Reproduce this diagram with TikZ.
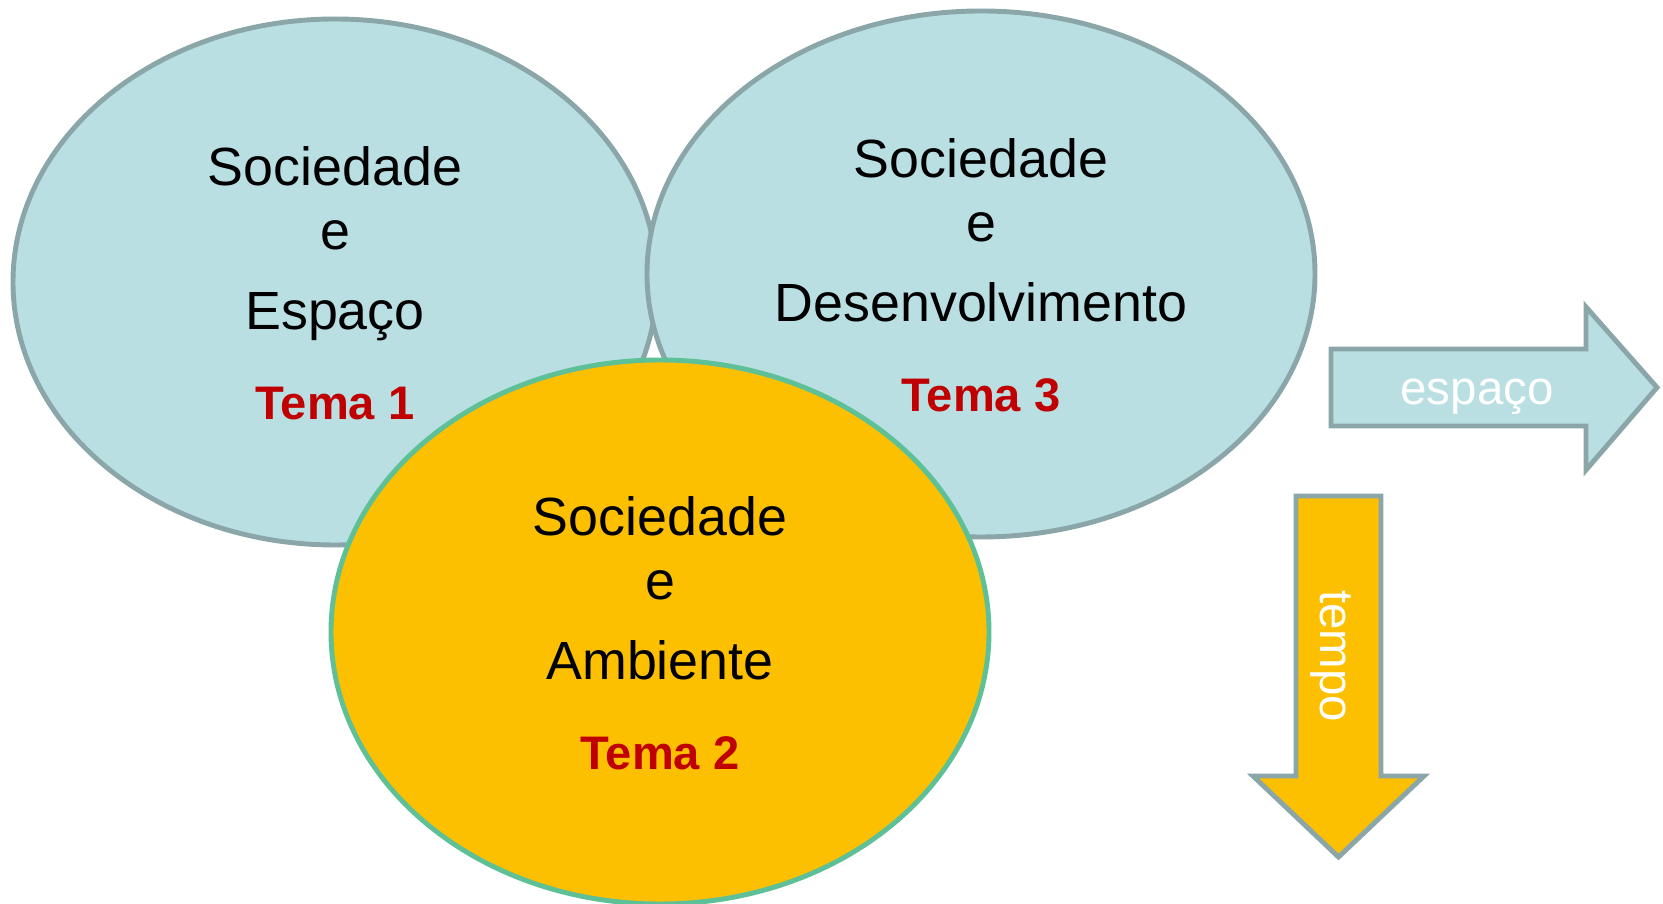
\documentclass[tikz,border=0pt]{standalone}
\usepackage{fontspec}
\setmainfont{Liberation Sans}
\usetikzlibrary{positioning}
\usetikzlibrary{calc}
\usetikzlibrary{shapes.geometric}
\definecolor{ceu}{HTML}{B9DFE3}
\definecolor{cinza}{HTML}{8AA6A9}
\definecolor{laranja}{HTML}{FDC000}
\definecolor{verde}{HTML}{5EC096}
\definecolor{vermelho}{HTML}{C00000}
\tikzset{
  bolha/.style={ellipse, line width=1.4pt, inner sep=0pt},
  linha/.style={anchor=base, inner sep=0pt, font=\fontsize{15.3}{18}\selectfont},
  rotulo/.style={anchor=base, inner sep=0pt, text=vermelho, font=\fontsize{13.4}{16}\selectfont\bfseries},
  seta/.style={draw=cinza, line width=1.4pt, line join=miter},
  setatxt/.style={anchor=base, inner sep=0pt, text=white, font=\fontsize{13.5}{16}\selectfont}
}

\begin{document}
\begin{tikzpicture}
\useasboundingbox (0,0) rectangle (16.63,9.04);
% os tres temas
\foreach \n/\x/\y/\w/\h/\f/\d/\lbl/\num in {
    esp/3.35/6.22/6.44/5.26/ceu/cinza/Espaço/1,
    des/9.81/6.30/6.68/5.26/ceu/cinza/Desenvolvimento/3,
    amb/6.60/2.72/6.58/5.44/laranja/verde/Ambiente/2}
{
  \node[bolha, fill=\f, draw=\d, minimum width=\w cm, minimum height=\h cm] (\n) at (\x,\y) {};
  \node[linha] (\n-a) at ($(\n)+(0,0.96)$) {Sociedade};
  \node[linha] (\n-b) at ($(\n)+(0,0.32)$) {e};
  \node[linha] (\n-c) at ($(\n)+(0,-0.48)$) {\lbl};
  \node[rotulo] (\n-t) at ($(\n)+(0,-1.38)$) {Tema \num};
}
% setas
\draw[seta, fill=ceu] (13.31,5.55) -- (15.86,5.55) -- (15.86,5.97) -- (16.57,5.165)
  -- (15.86,4.34) -- (15.86,4.78) -- (13.31,4.78) -- cycle;
\node[setatxt] (espaco) at (14.77,4.99) {espaço};
\draw[seta, fill=laranja] (12.96,4.08) -- (13.81,4.08) -- (13.81,1.28) -- (14.24,1.28)
  -- (13.385,0.47) -- (12.53,1.28) -- (12.96,1.28) -- cycle;
\node[setatxt, rotate=-90] (tempo) at (13.20,2.48) {tempo};
\end{tikzpicture}
\end{document}
